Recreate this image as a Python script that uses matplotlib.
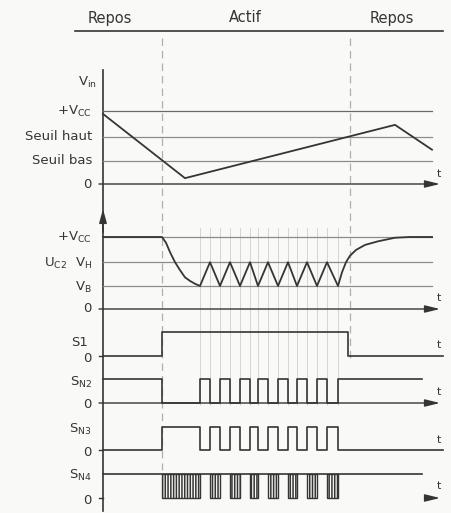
import matplotlib
matplotlib.use("Agg")
import matplotlib.pyplot as plt

# ── data (time in arbitrary units, 0 = vertical axis) ───────────────────
T_ACTIVE = 59       # Repos -> Actif
T_REPOS = 247       # Actif -> Repos

VCC = 10.0
SEUIL_BAS = 3.2
SEUIL_HAUT = 6.5

phases = ["Repos", "Actif", "Repos"]
phase_t = [7, 142, 289]

vin_t = [0, 82, 292, 329]
vin_v = [9.6, 0.8, 8.1, 4.7]

uc2_t = [0, 59, 63, 67, 72, 77, 82, 87, 92, 97,
         107, 117, 127, 137, 147, 155, 165, 175, 185, 194, 204, 214, 224, 235,
         239, 243, 247, 253, 262, 275, 292, 307, 329]
uc2_v = [10, 10, 9.2, 7.9, 6.5, 5.4, 4.4, 3.9, 3.5, 3.2,
         6.5, 3.2, 6.5, 3.2, 6.5, 3.2, 6.5, 3.2, 6.5, 3.2, 6.5, 3.2, 6.5, 3.2,
         5.1, 6.5, 7.4, 8.2, 8.9, 9.4, 9.9, 10, 10]
turn_t = [97, 107, 117, 127, 137, 147, 155, 165, 175, 185, 194, 204, 214, 224, 235]

s1_t = [0, 59, 245, 340]
s1_v = [0, 1, 0, 0]

sn2_t = [0, 59, 97, 107, 117, 127, 137, 147, 155, 165, 175, 185, 194, 204, 214, 224, 235, 319]
sn2_v = [1, 0, 1, 0, 1, 0, 1, 0, 1, 0, 1, 0, 1, 0, 1, 0, 1, 1]

sn3_t = [0, 59, 97, 107, 117, 127, 137, 147, 155, 165, 175, 185, 194, 204, 214, 224, 235, 340]
sn3_v = [0, 1, 0, 1, 0, 1, 0, 1, 0, 1, 0, 1, 0, 1, 0, 1, 0, 0]

sn4_high_t = [0, 319]
sn4_burst_start = [59, 107, 127, 147, 165, 185, 204, 224]
sn4_burst_end = [97, 117, 137, 155, 175, 194, 214, 235]

# ── figure ───────────────────────────────────────────────────────────────
W, H = 451, 513
INK = "#353535"
GUIDE = "#8c8c8c"
FAINT = "#cfcfcf"
BG = "#f9f9f7"

plt.rcParams["font.family"] = "DejaVu Sans"
plt.rcParams["hatch.linewidth"] = 1.1
plt.rcParams["mathtext.default"] = "regular"

fig = plt.figure(figsize=(W / 100, H / 100), dpi=100, facecolor=BG)

# overlay: x in time units, y in pixel rows
ov = fig.add_axes([0, 0, 1, 1])
ov.set_xlim(-103, W - 103)
ov.set_ylim(H, 0)
ov.axis("off")


def panel(y0, ppu, top, bottom):
    ax = fig.add_axes([103 / W, 1 - bottom / H, 340 / W, (bottom - top) / H])
    ax.set_xlim(0, 340)
    ax.set_ylim(-(bottom - y0) / ppu, (y0 - top) / ppu)
    ax.axis("off")
    return ax


def t_axis(ax):
    ax.annotate("", xy=(337, 0), xytext=(-4, 0), annotation_clip=False,
                arrowprops=dict(arrowstyle="-|>,head_length=0.9,head_width=0.22",
                                color=INK, lw=1.0, shrinkA=0, shrinkB=0))


# header
ov.plot([-28, 340], [31, 31], color=INK, lw=1.2)
for name, t in zip(phases, phase_t):
    ov.text(t, 18, name, ha="center", va="center", fontsize=10.5, color=INK)

# phase boundaries
ov.plot([T_ACTIVE] * 2, [38, 470], color="#b0b0b0", lw=0.9, ls=(0, (6, 4)))
ov.plot([T_REPOS] * 2, [38, 360], color="#b0b0b0", lw=0.9, ls=(0, (6, 4)))

# comparator switching instants
for t in turn_t:
    ov.plot([t, t], [228, 405], color=FAINT, lw=0.6, zorder=0)

# vertical axis
ov.plot([0, 0], [70, 511], color=INK, lw=1.2)
ov.annotate("", xy=(0, 209), xytext=(0, 232),
            arrowprops=dict(arrowstyle="-|>,head_length=0.8,head_width=0.22",
                            color=INK, lw=1.2, shrinkA=0, shrinkB=0))

# ── panel 1: Vin ──
ax1 = panel(184, 7.3, 65, 192)
for lvl, c in [(VCC, "#6a6a6a"), (SEUIL_HAUT, GUIDE), (SEUIL_BAS, GUIDE)]:
    ax1.plot([0, 329], [lvl, lvl], color=c, lw=0.9, clip_on=False)
t_axis(ax1)
ax1.plot(vin_t, vin_v, color=INK, lw=1.3, clip_on=False)

# ── panel 2: Uc2 ──
ax2 = panel(309, 7.2, 205, 316)
for lvl in [VCC, SEUIL_HAUT, SEUIL_BAS]:
    ax2.plot([0, 329], [lvl, lvl], color=GUIDE, lw=0.9, clip_on=False)
t_axis(ax2)
ax2.plot(uc2_t, uc2_v, color=INK, lw=1.3, clip_on=False)

# ── panel 3: S1 ──
ax3 = panel(356, 24, 325, 362)
ax3.plot([-4, 0], [0, 0], color=INK, lw=1.0, clip_on=False)
ax3.plot(s1_t, s1_v, drawstyle="steps-post", color=INK, lw=1.2, clip_on=False)

# ── panel 4: SN2 ──
ax4 = panel(403, 24, 368, 410)
t_axis(ax4)
ax4.plot(sn2_t, sn2_v, drawstyle="steps-post", color=INK, lw=1.2, clip_on=False)

# ── panel 5: SN3 ──
ax5 = panel(450, 23, 420, 457)
ax5.plot([-4, 0], [0, 0], color=INK, lw=1.0, clip_on=False)
ax5.plot(sn3_t, sn3_v, drawstyle="steps-post", color=INK, lw=1.2, clip_on=False)

# ── panel 6: SN4 ──
ax6 = panel(498, 24, 466, 505)
ax6.plot(sn4_high_t, [1, 1], color=INK, lw=1.2, clip_on=False)
widths = [e - s for s, e in zip(sn4_burst_start, sn4_burst_end)]
ax6.bar(sn4_burst_start, [1] * len(widths), width=widths, align="edge",
        fill=False, hatch="||||||", edgecolor=INK, lw=1.0)
ax6.plot([-4, 0], [0, 0], color=INK, lw=1.0, clip_on=False)
ax6.annotate("", xy=(337, 0), xytext=(327, 0), annotation_clip=False,
             arrowprops=dict(arrowstyle="-|>,head_length=0.9,head_width=0.22",
                             color=INK, lw=1.0, shrinkA=0, shrinkB=0))

# ── labels ──
fs = 9.5
lab = dict(ha="right", va="center", fontsize=fs, color=INK)
ov.text(-6, 82, r"V$_{in}$", **lab)
ov.text(-11, 111, r"+V$_{CC}$", **lab)
ov.text(-11, 137, "Seuil haut", **lab)
ov.text(-11, 161, "Seuil bas", **lab)
ov.text(-11, 184, "0", **lab)

ov.text(-11, 237, r"+V$_{CC}$", **lab)
ov.text(-36, 263, r"U$_{C2}$", **lab)
ov.text(-11, 263, r"V$_H$", **lab)
ov.text(-11, 287, r"V$_B$", **lab)
ov.text(-11, 309, "0", **lab)

ov.text(-15, 342, "S1", **lab)
ov.text(-11, 358, "0", **lab)
ov.text(-11, 382, r"S$_{N2}$", **lab)
ov.text(-11, 405, "0", **lab)
ov.text(-11, 429, r"S$_{N3}$", **lab)
ov.text(-11, 453, "0", **lab)
ov.text(-11, 475, r"S$_{N4}$", **lab)
ov.text(-11, 500, "0", **lab)

for y in [174, 298, 345, 392, 440, 486]:
    ov.text(336, y, "t", ha="center", va="center", fontsize=8, color=INK)

fig.savefig("out.png", dpi=100, facecolor=BG)
